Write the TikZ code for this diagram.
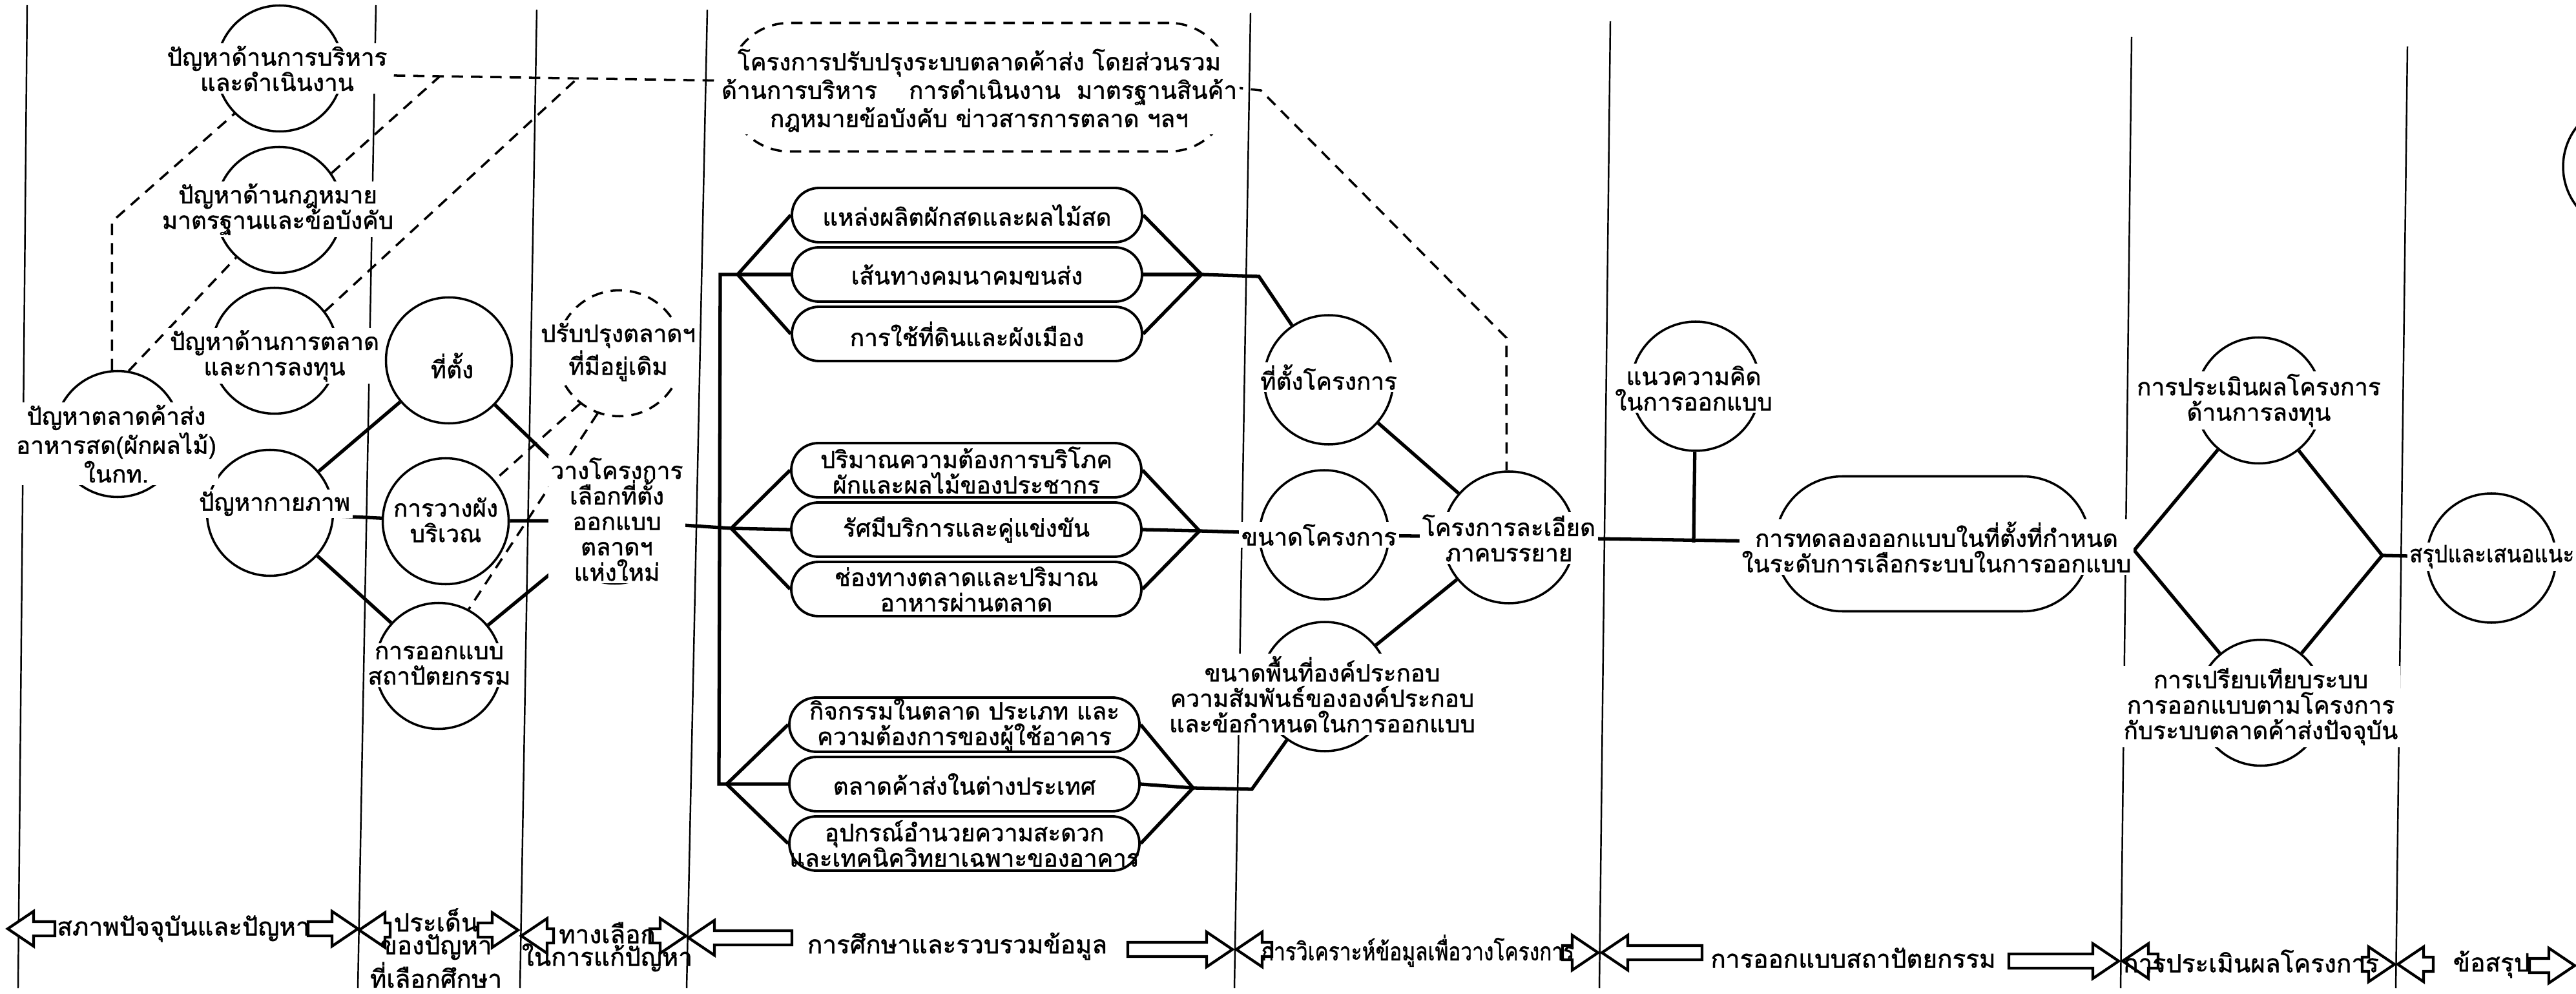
\documentclass[tikz,border=0pt]{standalone}
\usepackage{fontspec}
\usepackage{graphicx}
\newfontfamily\thaifont[Script=Thai, FakeBold=1.2]{Loma}

\tikzset{
	bub/.style={draw, circle, minimum size=#1, inner sep=0pt, line width=1pt},
	bub/.default=1.95cm,
	txt/.style={fill=white, inner sep=1pt, align=center, font=\thaifont\fontsize{10.5}{11.2}\selectfont},
	btxt/.style={inner sep=1pt, align=center, font=\thaifont\fontsize{11}{10}\selectfont},
	pill/.style={draw, rounded corners=0.42cm, minimum width=5.42cm, minimum height=0.84cm, inner sep=0pt, line width=1.1pt, align=center, font=\thaifont\fontsize{10.5}{11.2}\selectfont},
	link/.style={line width=1.5pt},
	dlink/.style={line width=1pt, dash pattern=on 5pt off 3.5pt},
	colline/.style={line width=0.7pt},
	arr/.style={line width=1.2pt, fill=white, line join=miter},
	pics/rarr/.style={code={\draw[arr] (0,0) -- (-0.4,0.27) -- (-0.4,0.11) -- (-#1,0.11) -- (-#1,-0.11) -- (-0.4,-0.11) -- (-0.4,-0.27) -- cycle;}},
	pics/larr/.style={code={\draw[arr] (0,0) -- (0.4,0.27) -- (0.4,0.11) -- (#1,0.11) -- (#1,-0.11) -- (0.4,-0.11) -- (0.4,-0.27) -- cycle;}},
}

\begin{document}
\begin{tikzpicture}
	\useasboundingbox[fill=white] (0,0) rectangle (39.88,-15.39);

	%column lines
	\foreach \xt/\xb/\yt in {0.42/0.28/0.08, 5.82/5.54/0.08, 8.31/8.05/0.15, 10.95/10.63/0.15, 19.36/19.11/0.2, 24.93/24.76/0.33, 33.00/32.83/0.57, 37.27/37.09/0.72}
	\draw[colline] (\xt,-\yt)--(\xb,-15.30);

	%PROBLEMS
	\node[bub] (a0) at (1.82,-6.72) {};
	\node[bub] (a1) at (4.33,-1.06) {};
	\node[bub] (a2) at (4.32,-3.25) {};
	\node[bub] (a3) at (4.25,-5.43) {};
	\node[bub] (phys) at (4.18,-7.94) {};
	\node[bub] (site) at (6.95,-5.58) {};
	\node[bub] (layout) at (6.90,-8.07) {};
	\node[bub] (arch) at (6.79,-10.31) {};
	\node[bub, dash pattern=on 5pt off 3.5pt] (fix) at (9.59,-5.47) {};
	\node[bub] (newm) at (9.52,-8.06) {};

	\draw[link] (a0)--(phys);
	\draw[link] (phys)--(site) (phys)--(layout) (phys)--(arch);
	\draw[link] (site)--(newm) (layout)--(newm) (arch)--(newm);
	\draw[dlink] (fix.250)--(arch.62);
	\draw[dlink] (fix.232)--(layout.40);

	%dashed links to the overall project
	\node[draw, dash pattern=on 5pt off 3.5pt, line width=1pt, rounded corners=0.95cm, minimum width=7.78cm, minimum height=1.99cm] (box) at (15.16,-1.35) {};
	\coordinate (a1k) at (5.50,-1.16);
	\coordinate (bxin) at (11.27,-1.25);
	\draw[dlink] (a0.95)--++(0,2.3)--(a1.225);
	\draw[dlink] (a0.80)--(a2.228);
	\draw[dlink] (a2.35)--(6.80,-1.19);
	\draw[dlink] (a3.38)--(8.91,-1.24);
	\draw[dlink] (a1k)--(bxin);

	%DATA COLLECTION
	\node[pill] (p1) at (14.97,-3.33) {แหล่งผลิตผักสดและผลไม้สด};
	\node[pill] (p2) at (14.97,-4.25) {เส้นทางคมนาคมขนส่ง};
	\node[pill] (p3) at (14.97,-5.17) {การใช้ที่ดินและผังเมือง};
	\node[pill] (p4) at (14.96,-7.28) {ปริมาณความต้องการบริโภค\\ผักและผลไม้ของประชากร};
	\node[pill] (p5) at (14.96,-8.20) {รัศมีบริการและคู่แข่งขัน};
	\node[pill] (p6) at (14.96,-9.12) {ช่องทางตลาดและปริมาณ\\อาหารผ่านตลาด};
	\node[pill] (p7) at (14.93,-11.22) {กิจกรรมในตลาด ประเภท และ\\ความต้องการของผู้ใช้อาคาร};
	\node[pill] (p8) at (14.93,-12.14) {ตลาดค้าส่งในต่างประเทศ};
	\node[pill] (p9) at (14.93,-13.06) {อุปกรณ์อำนวยความสะดวก\\และเทคนิควิทยาเฉพาะของอาคาร};

	\coordinate (sp1) at (11.15,-4.25);
	\coordinate (sp3) at (11.13,-12.14);
	\coordinate (g1L) at (11.42,-4.25);
	\coordinate (g1R) at (18.60,-4.25);
	\coordinate (g1K) at (19.49,-4.28);
	\coordinate (g2L) at (11.32,-8.18);
	\coordinate (g2R) at (18.57,-8.22);
	\coordinate (g3L) at (11.25,-12.14);
	\coordinate (g3R) at (18.47,-12.20);
	\coordinate (g3K) at (19.38,-12.22);

	\draw[link] (g1L)--(sp1)--(sp3)--(g3L);
	\draw[link] (newm)--(g2L);
	\foreach \p in {p1,p2,p3}
	\draw[link] (g1L)--(\p.west) (\p.east)--(g1R);
	\foreach \p in {p4,p5,p6}
	\draw[link] (g2L)--(\p.west) (\p.east)--(g2R);
	\foreach \p in {p7,p8,p9}
	\draw[link] (g3L)--(\p.west) (\p.east)--(g3R);

	%ANALYSIS
	\node[bub=2cm] (sitep) at (20.57,-5.88) {};
	\node[bub=2cm] (sizep) at (20.50,-8.28) {};
	\node[bub=2cm] (area) at (20.51,-10.63) {};
	\node[bub=2.04cm] (detail) at (23.36,-8.32) {};

	\draw[link] (g1R)--(g1K)--(sitep);
	\draw[link] (g2R)--(sizep);
	\draw[link] (g3R)--(g3K)--(area);
	\draw[link] (sitep)--(detail) (sizep)--(detail) (area)--(detail);
	\draw[dlink] (box.east)--(19.52,-1.40)--(23.32,-5.23)--(detail.92);

	%DESIGN
	\node[bub=2cm] (idea) at (26.25,-5.98) {};
	\node[draw, line width=1pt, rounded corners=1.04cm, minimum width=4.87cm, minimum height=2.09cm] (big) at (29.92,-8.42) {};
	\coordinate (j) at (26.22,-8.40);
	\draw[link] (detail)--(big);
	\draw[link] (idea)--(j);

	%EVALUATION
	\node[bub] (invest) at (34.97,-6.20) {};
	\node[bub] (compare) at (35.00,-10.88) {};
	\node[bub=2cm] (summary) at (38.57,-8.64) {};
	\node[bub=2cm] (next) at (40.68,-2.58) {};
	\coordinate (dL) at (33.04,-8.52);
	\coordinate (dR) at (36.88,-8.60);
	\draw[link] (big.east)--(dL);
	\draw[link] (dL)--(invest)--(dR)--(compare)--(dL);
	\draw[link] (dR)--(summary);

	%LABELS
	\node[txt] (a0t) at (1.80,-6.87) {ปัญหาตลาดค้าส่ง\\อาหารสด(ผักผลไม้)\\ในกท.};
	\node[txt] (a1t) at (4.29,-1.06) {ปัญหาด้านการบริหาร\\และดำเนินงาน};
	\node[txt] (a2t) at (4.30,-3.24) {ปัญหาด้านกฎหมาย\\มาตรฐานและข้อบังคับ};
	\node[txt] (a3t) at (4.25,-5.51) {ปัญหาด้านการตลาด\\และการลงทุน};
	\node[txt] (physt) at (4.25,-7.80) {ปัญหากายภาพ};
	\node[txt] (sitet) at (7.00,-5.66) {ที่ตั้ง};
	\node[txt] (layoutt) at (6.90,-8.05) {การวางผัง\\บริเวณ};
	\node[txt] (archt) at (6.80,-10.30) {การออกแบบ\\สถาปัตยกรรม};
	\node[txt] (fixt) at (9.57,-5.45) {ปรับปรุงตลาดฯ\\ที่มีอยู่เดิม};
	\node[txt] (newmt) at (9.55,-8.04) {วางโครงการ\\เลือกที่ตั้ง\\ออกแบบ\\ตลาดฯ\\แห่งใหม่};
	\node[txt] (boxt) at (15.16,-1.40) {โครงการปรับปรุงระบบตลาดค้าส่ง โดยส่วนรวม\\ด้านการบริหาร\quad\ การดำเนินงาน\ \ มาตรฐานสินค้า\\กฎหมายข้อบังคับ ข่าวสารการตลาด ฯลฯ};
	\node[txt] (sitept) at (20.57,-5.84) {ที่ตั้งโครงการ};
	\node[txt] (sizept) at (20.42,-8.28) {ขนาดโครงการ};
	\node[txt] (areat) at (20.47,-10.75) {ขนาดพื้นที่องค์ประกอบ\\ความสัมพันธ์ขององค์ประกอบ\\และข้อกำหนดในการออกแบบ};
	\node[txt] (detailt) at (23.36,-8.33) {โครงการละเอียด\\ภาคบรรยาย};
	\node[txt] (ideat) at (26.22,-6.01) {แนวความคิด\\ในการออกแบบ};
	\node[txt] (bigt) at (29.98,-8.47) {การทดลองออกแบบในที่ตั้งที่กำหนด\\ในระดับการเลือกระบบในการออกแบบ};
	\node[txt] (investt) at (34.97,-6.20) {การประเมินผลโครงการ\\ด้านการลงทุน};
	\node[txt] (comparet) at (35.00,-10.94) {การเปรียบเทียบระบบ\\การออกแบบตามโครงการ\\กับระบบตลาดค้าส่งปัจจุบัน};
	\node[txt, anchor=west] (summaryt) at (37.26,-8.62) {\scalebox{0.9}[1]{สรุปและเสนอแนะ}};

	%STAGES
	\pic at (0.12,-14.38) {larr=0.73};
	\pic at (5.54,-14.38) {rarr=0.77};
	\pic at (5.56,-14.40) {larr=0.48};
	\pic at (8.02,-14.40) {rarr=0.62};
	\pic at (8.07,-14.49) {larr=0.50};
	\pic at (10.62,-14.49) {rarr=0.56};
	\pic at (10.66,-14.52) {larr=1.60};
	\pic at (19.08,-14.70) {rarr=1.62};
	\pic at (19.14,-14.70) {larr=0.55};
	\pic at (24.74,-14.75) {rarr=0.55};
	\pic at (24.80,-14.75) {larr=1.55};
	\pic at (32.80,-14.88) {rarr=1.70};
	\pic at (32.86,-14.88) {larr=0.55};
	\pic at (37.07,-14.93) {rarr=0.50};
	\pic at (37.12,-14.93) {larr=0.55};
	\pic at (39.86,-14.95) {rarr=0.70};

	\node[btxt] (s1) at (2.84,-14.38) {สภาพปัจจุบันและปัญหา};
	\node[btxt] (s2) at (6.75,-14.68) {ประเด็น\\ของปัญหา\\ที่เลือกศึกษา};
	\node[btxt] (s3) at (9.40,-14.66) {ทางเลือก\\ในการแก้ปัญหา};
	\node[btxt] (s4) at (14.82,-14.65) {การศึกษาและรวบรวมข้อมูล};
	\node[btxt] (s5) at (21.95,-14.72) {\scalebox{0.82}[1]{การวิเคราะห์ข้อมูลเพื่อวางโครงการ}};
	\node[btxt] (s6) at (28.69,-14.83) {การออกแบบสถาปัตยกรรม};
	\node[btxt] (s7) at (34.85,-14.88) {การประเมินผลโครงการ};
	\node[btxt] (s8) at (38.57,-14.93) {ข้อสรุป};
\end{tikzpicture}
\end{document}
